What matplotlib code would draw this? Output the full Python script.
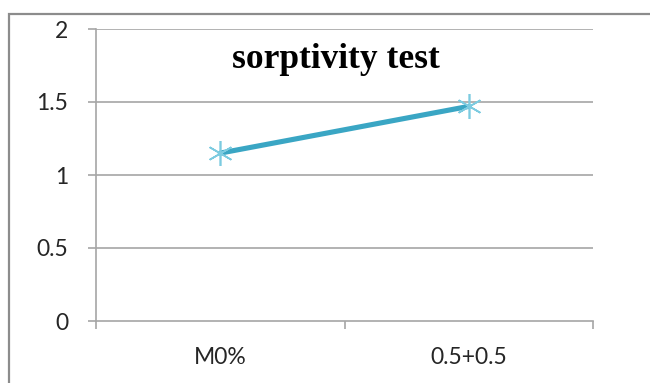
import matplotlib

matplotlib.use("Agg")
import matplotlib.pyplot as plt
from matplotlib.patches import Rectangle

# data
categories = ["M0%", "0.5+0.5"]
sorptivity = [1.15, 1.47]
y_ticks = [0, 0.5, 1, 1.5, 2]
y_labels = ["0", "0.5", "1", "1.5", "2"]

GRID = "#a6a6a6"
LINE = "#3aa6c4"
MARK = "#7ccbe0"

fig = plt.figure(figsize=(6.5, 3.83), dpi=100)
fig.patch.set_facecolor("white")

# outer chart frame (left and top visible, the rest cut off)
fig.add_artist(Rectangle((9 / 650, -0.1), 1.2, (383 - 14) / 383 + 0.1,
                         transform=fig.transFigure, fill=False,
                         edgecolor="#8c8c8c", linewidth=1.6))

ax = fig.add_axes([96 / 650, 1 - 321 / 383, (593 - 96) / 650, (321 - 29) / 383])
x = [0.5, 1.5]
ax.plot(x, sorptivity, color=LINE, linewidth=3.7, solid_capstyle="round",
        zorder=3)
ax.plot(x, sorptivity, linestyle="none", marker=(6, 2, 0), markersize=18,
        markeredgecolor=MARK, markeredgewidth=1.2, zorder=4)

ax.set_xlim(0, 2)
ax.set_ylim(0, 2)
ax.set_yticks(y_ticks)
ax.set_yticklabels(y_labels)
ax.set_xticks([0, 1, 2])
ax.set_xticklabels([])
ax.set_xticks(x, minor=True)
ax.set_xticklabels(categories, minor=True)

for v in y_ticks[1:]:
    ax.axhline(v, color=GRID, linewidth=1.2, zorder=1)

for s in ["top", "right"]:
    ax.spines[s].set_visible(False)
for s in ["left", "bottom"]:
    ax.spines[s].set_color(GRID)
    ax.spines[s].set_linewidth(1.2)

ax.tick_params(axis="y", which="major", length=6, color=GRID, width=1.2,
               labelsize=16.5, labelcolor="#262626", pad=14)
ax.tick_params(axis="x", which="major", length=6, color=GRID, width=1.2,
               direction="out")
ax.tick_params(axis="x", which="minor", length=0, labelsize=16.5,
               labelcolor="#262626", pad=19)
for lab in ax.get_yticklabels() + ax.get_xticklabels(minor=True):
    lab.set_fontfamily(["Lato", "DejaVu Sans"])

ax.text(0.482, 0.894, "sorptivity test", transform=ax.transAxes,
        ha="center", va="center", fontsize=25.5, fontweight="bold",
        family=["Liberation Serif", "DejaVu Serif"])

fig.savefig("out.png", dpi=100)
